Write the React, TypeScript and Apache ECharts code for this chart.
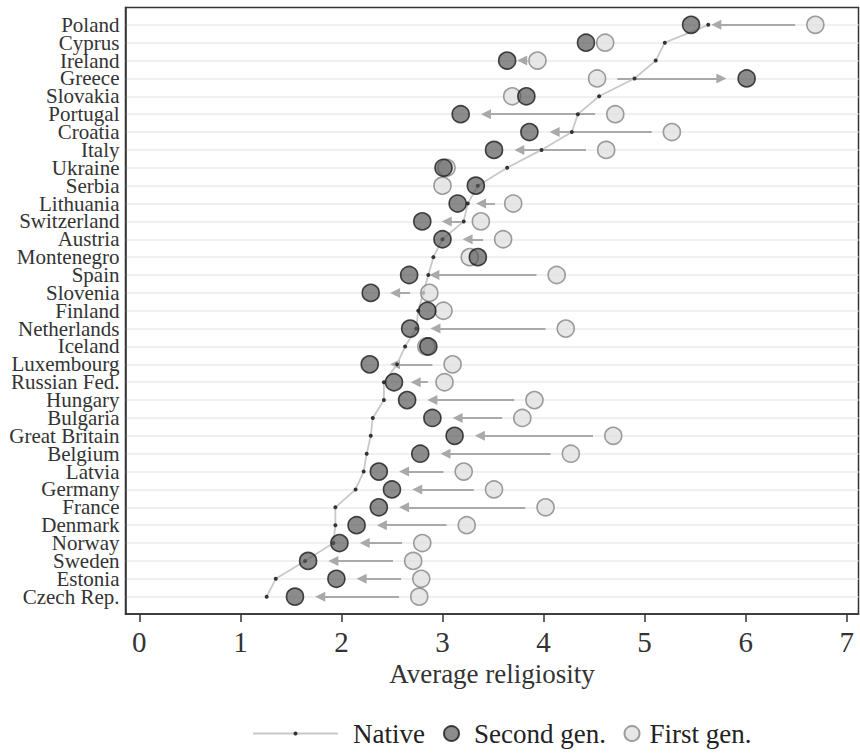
import React, { useEffect, useRef } from "react";
import * as echarts from "echarts";

const countries = [
  "Poland", "Cyprus", "Ireland", "Greece", "Slovakia", "Portugal", "Croatia", "Italy",
  "Ukraine", "Serbia", "Lithuania", "Switzerland", "Austria", "Montenegro", "Spain",
  "Slovenia", "Finland", "Netherlands", "Iceland", "Luxembourg", "Russian Fed.",
  "Hungary", "Bulgaria", "Great Britain", "Belgium", "Latvia", "Germany", "France",
  "Denmark", "Norway", "Sweden", "Estonia", "Czech Rep.",
];

const nativeVals = [
  5.63, 5.2, 5.11, 4.9, 4.55, 4.34, 4.28, 3.98,
  3.64, 3.35, 3.25, 3.21, 3.0, 2.91, 2.86,
  2.81, 2.76, 2.74, 2.63, 2.55, 2.42,
  2.42, 2.31, 2.29, 2.25, 2.22, 2.14, 1.94,
  1.94, 1.92, 1.64, 1.35, 1.26,
];

const secondGen = [
  5.46, 4.42, 3.64, 6.01, 3.83, 3.18, 3.86, 3.51,
  3.01, 3.33, 3.15, 2.8, 3.0, 3.35, 2.67,
  2.29, 2.85, 2.68, 2.86, 2.28, 2.52,
  2.65, 2.9, 3.12, 2.78, 2.37, 2.5, 2.37,
  2.15, 1.98, 1.67, 1.95, 1.54,
];

const firstGen = [
  6.69, 4.61, 3.94, 4.53, 3.69, 4.71, 5.27, 4.62,
  3.04, 3.0, 3.7, 3.38, 3.6, 3.27, 4.13,
  2.87, 3.01, 4.22, 2.84, 3.1, 3.02,
  3.91, 3.79, 4.69, 4.27, 3.21, 3.51, 4.02,
  3.24, 2.8, 2.71, 2.79, 2.77,
];

// whether an arrow (first gen -> second gen) is drawn
const hasArrow = [
  true, false, true, true, false, true, true, true,
  false, false, true, true, true, false, true,
  true, false, true, false, true, true,
  true, true, true, true, true, true, true,
  true, true, true, true, true,
];

const xTicks = [0, 1, 2, 3, 4, 5, 6, 7];

const FONT = "'Liberation Serif', 'Times New Roman', serif";

export default function App() {
  const ref = useRef<HTMLDivElement>(null);

  useEffect(() => {
    if (!ref.current) return;
    const chart = echarts.init(ref.current, undefined, { renderer: "svg" });

    const yMin = -0.97;
    const yMax = 32.97;
    const rowIdx = countries.map((_, i) => i);
    // empty sentinel labels at both ends so that ECharts' min/max overlap check
    // only hides those, never a country name
    const labelVals = [yMin + 0.07, ...rowIdx, yMax - 0.07];
    const headHalf = 0.05;
    const arrows = countries.flatMap((_, i) => {
      if (!hasArrow[i]) return [];
      const f = firstGen[i];
      const s = secondGen[i];
      const len = Math.abs(s - f);
      const dir = Math.sign(s - f);
      const gap = Math.min(0.2, len * 0.33);
      const tail = f + dir * gap;
      const tip = s - dir * gap;
      const end = tip - dir * headHalf;
      return [{ coords: [[tail, i], [end, i]] }];
    });

    const legendText = { fontSize: 27, fontFamily: FONT, color: "#222" };

    chart.setOption({
      animation: false,
      grid: {
        left: 125.5,
        right: 1.5,
        top: 7.5,
        bottom: 139,
        show: true,
        borderColor: "#333",
        borderWidth: 1.5,
        backgroundColor: "#fff",
      },
      xAxis: {
        type: "value",
        min: -0.137,
        max: 7.117,
        name: "Average religiosity",
        nameLocation: "middle",
        nameGap: 42,
        nameTextStyle: { fontSize: 27, fontFamily: FONT, color: "#333" },
        axisLine: { show: true, onZero: false, lineStyle: { color: "#333", width: 1.5 } },
        axisTick: { show: true, length: 8, customValues: xTicks, lineStyle: { color: "#333", width: 1.5 } },
        axisLabel: {
          customValues: xTicks,
          fontSize: 29,
          fontFamily: FONT,
          color: "#333",
          margin: 13,
        },
        splitLine: { show: false },
      },
      yAxis: {
        type: "value",
        inverse: true,
        min: yMin,
        max: yMax,
        axisLine: { show: true, onZero: false, lineStyle: { color: "#333", width: 1.5 } },
        axisTick: { show: false, customValues: rowIdx },
        axisLabel: {
          customValues: labelVals,
          formatter: (v: number) =>
            Number.isInteger(v) ? countries[v] ?? "" : "",
          fontSize: 21,
          lineHeight: 14,
          fontFamily: FONT,
          color: "#333",
          margin: 6,
          showMinLabel: false,
          showMaxLabel: false,
          hideOverlap: false,
        },
        splitLine: { show: true, lineStyle: { color: "#ebebeb", width: 1.5 } },
      },
      legend: [
        {
          data: [{ name: "Native" }],
          left: 252,
          top: 720,
          padding: 0,
          itemWidth: 85,
          itemHeight: 5,
          textStyle: { ...legendText, padding: [0, 0, 0, 10] },
        },
        {
          data: [{ name: "Second gen." }],
          left: 443,
          top: 720,
          padding: 0,
          itemWidth: 15,
          itemHeight: 15,
          textStyle: { ...legendText, padding: [0, 0, 0, 10] },
        },
        {
          data: [{ name: "First gen." }],
          left: 623.5,
          top: 720,
          padding: 0,
          itemWidth: 15,
          itemHeight: 15,
          textStyle: { ...legendText, padding: [0, 0, 0, 5] },
        },
      ],
      series: [
        {
          type: "lines",
          name: "arrows",
          coordinateSystem: "cartesian2d",
          polyline: false,
          symbol: ["none", "triangle"],
          symbolSize: 10,
          lineStyle: { color: "#a9a9a9", width: 2, opacity: 1 },
          data: arrows,
          silent: true,
          z: 2,
        },
        {
          type: "line",
          name: "Native",
          data: nativeVals.map((v, i) => [v, i]),
          symbol: "circle",
          symbolSize: 4,
          showSymbol: true,
          lineStyle: { color: "#c8c8c8", width: 1.8 },
          itemStyle: { color: "#333" },
          z: 3,
        },
        {
          type: "scatter",
          name: "First gen.",
          data: firstGen.map((v, i) => [v, i]),
          symbol: "circle",
          symbolSize: 17,
          itemStyle: { color: "rgba(222,222,222,0.9)", borderColor: "#858585", borderWidth: 1.6 },
          z: 4,
        },
        {
          type: "scatter",
          name: "Second gen.",
          data: secondGen.map((v, i) => [v, i]),
          symbol: "circle",
          symbolSize: 17,
          itemStyle: { color: "rgba(85,85,85,0.85)", borderColor: "#1a1a1a", borderWidth: 1.6 },
          z: 5,
        },
      ],
    });

    return () => chart.dispose();
  }, []);

  return (
    <div
      ref={ref}
      style={{ position: "absolute", left: 0, top: 0, width: 860, height: 753 }}
    />
  );
}
